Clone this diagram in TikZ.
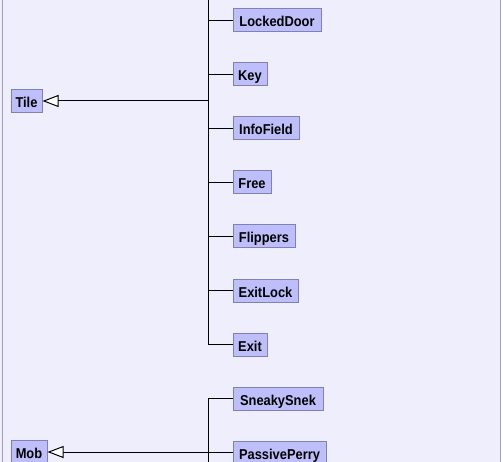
\documentclass[tikz,border=0pt]{standalone}
\usepackage{fontspec}
\setmainfont[FakeStretch=0.9]{Liberation Sans}
\usetikzlibrary{arrows.meta}
\definecolor{bgc}{RGB}{238,238,252}
\definecolor{edgec}{RGB}{160,160,178}
\definecolor{boxfill}{RGB}{190,190,250}
\definecolor{boxdraw}{RGB}{128,128,178}
\begin{document}
\begin{tikzpicture}[x=1pt,y=-1pt,
  cls/.style={draw=boxdraw,fill=boxfill,line width=1pt,inner sep=0pt,
    minimum height=23pt,text height=13pt,text depth=0pt,
    font=\fontsize{14.3}{16}\selectfont\bfseries},
  conn/.style={line width=1pt,black},
  gen/.style={conn,-{Triangle[open,length=16pt,width=12pt,fill=white]}}]
\useasboundingbox (0,0) rectangle (503,462);
\fill[white] (0,0) rectangle (503,462);
\fill[bgc] (0,0) rectangle (500,462);
\draw[edgec,line width=1pt] (2.5,0) -- (2.5,462);
\draw[edgec,line width=1pt] (500.5,0) -- (500.5,462);
% classes
\node[cls,minimum width=31pt] (tile) at (26.5,101) {Tile};
\node[cls,minimum width=36pt] (mob) at (29,452) {Mob};
\node[cls,minimum width=88pt] (lockeddoor) at (277,20.5) {LockedDoor};
\node[cls,minimum width=34pt] (key) at (250,74.5) {Key};
\node[cls,minimum width=66pt] (infofield) at (266,128.5) {InfoField};
\node[cls,minimum width=38pt] (free) at (252,182.5) {Free};
\node[cls,minimum width=62pt] (flippers) at (264,236.5) {Flippers};
\node[cls,minimum width=65pt] (exitlock) at (265.5,290.5) {ExitLock};
\node[cls,minimum width=34pt] (exit) at (250,344.5) {Exit};
\node[cls,minimum width=90pt] (snek) at (278,398.5) {SneakySnek};
\node[cls,minimum width=93pt] (perry) at (279.5,452.5) {PassivePerry};
% trunks
\coordinate (ttop) at (208.5,0);
\coordinate (tj) at (208.5,101);
\coordinate (mbot) at (208.5,462);
\coordinate (mj) at (208.5,452);
\draw[conn] (ttop) |- (exit.west);
\foreach \n in {lockeddoor,key,infofield,free,flippers,exitlock}
  \draw[conn] (ttop |- \n.west) -- (\n.west);
\draw[conn] (mbot) |- (snek.west);
\draw[conn] (mbot |- perry.west) -- (perry.west);
\draw[gen] (tj) -- (tile.east);
\draw[gen] (mj) -- (mob.east);
\end{tikzpicture}
\end{document}
